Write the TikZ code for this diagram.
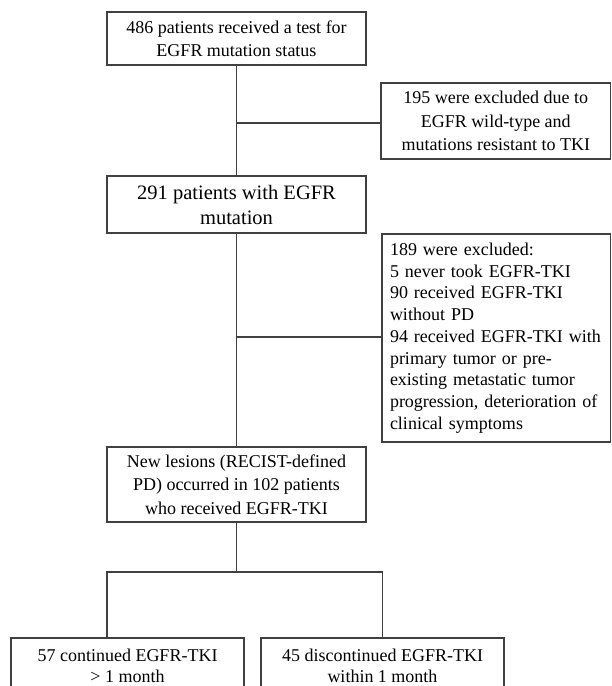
\documentclass[tikz,border=0pt]{standalone}
\usepackage{fontspec}
\setmainfont{Liberation Serif}
\begin{document}
\begin{tikzpicture}[x=1pt,y=-1pt,
  box/.style={draw=black!75,line width=1.1pt,fill=white,inner sep=0pt,align=center,
    font=\fontsize{18}{23.5}\selectfont},
  link/.style={draw=black!75,line width=1.1pt}]
\useasboundingbox (0,0) rectangle (611,686);
\clip (0,0) rectangle (611,686);
\fill[white] (0,0) rectangle (611,686);
\node[box,minimum width=259pt,minimum height=53pt] (b1) at (236.5,38.5)
  {486 patients received a test for\\EGFR mutation status};
\node[box,minimum width=229.5pt,minimum height=76pt] (b2) at (495.75,121)
  {195 were excluded due to\\EGFR wild-type and\\mutations resistant to TKI};
\node[box,minimum width=259pt,minimum height=57pt,font=\fontsize{20.5}{25}\selectfont] (b3) at (236.5,204.5)
  {291 patients with EGFR\\mutation};
\node[box,minimum width=228.5pt,minimum height=208pt,align=left,text width=212.5pt,
  inner xsep=8pt,font=\fontsize{18}{21.7}\selectfont] (b4) at (496.25,338)
  {189 were excluded:\\5 never took EGFR-TKI\\90 received EGFR-TKI\\without PD\\94 received EGFR-TKI with\\primary tumor or pre-\\existing metastatic tumor\\progression, deterioration of\\clinical symptoms};
\node[box,minimum width=259pt,minimum height=75pt] (b5) at (236.5,484.5)
  {New lesions (RECIST-defined\\PD) occurred in 102 patients\\who received EGFR-TKI};
\node[box,minimum width=233pt,minimum height=56pt,font=\fontsize{18}{21.5}\selectfont] (b6) at (127.5,666)
  {57 continued EGFR-TKI\\> 1 month};
\node[box,minimum width=243pt,minimum height=56pt,font=\fontsize{18}{21.5}\selectfont] (b7) at (382.5,666)
  {45 discontinued EGFR-TKI\\within 1 month};
\coordinate (j1) at (236.5,123);
\coordinate (j2) at (236.5,337);
\coordinate (j3) at (236.5,572);
\coordinate (d1) at (107,572);
\draw[link] (b1.south) -- (b3.north);
\draw[link] (j1) -- (j1 -| b2.west);
\draw[link] (b3.south) -- (b5.north);
\draw[link] (j2) -- (j2 -| b4.west);
\draw[link] (b5.south) -- (j3);
\draw[link] (d1 |- b6.north) -- (d1) -- (b7.north |- d1) -- (b7.north);
\end{tikzpicture}
\end{document}
